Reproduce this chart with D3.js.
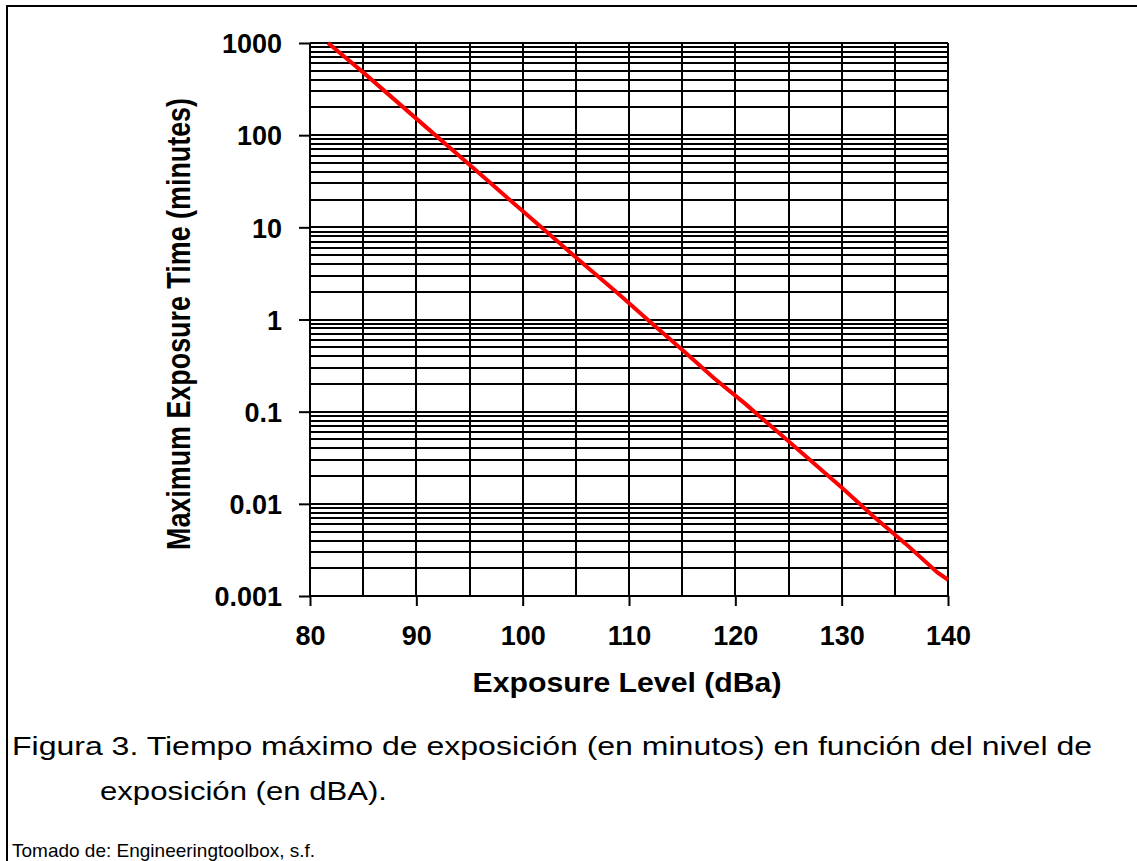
<!DOCTYPE html>
<html>
<head>
<meta charset="utf-8">
<script src="https://cdn.jsdelivr.net/npm/d3@7"></script>
<style>
  html, body { margin: 0; padding: 0; background: #fff; }
  svg { display: block; }
  text { font-family: "Liberation Sans", Arial, sans-serif; fill: #000; }
</style>
</head>
<body>
<svg id="chart" width="1137" height="861"></svg>
<script>
// ---- Data ----
const exposureLevel = [81.7, 85, 88, 91, 94, 97, 100, 103, 106, 109, 112, 115, 118, 121, 124, 127, 130, 133, 136, 139, 140];
const exposureTime  = [1000, 480, 240, 120, 60, 30, 15, 7.5, 3.75, 1.9, 0.94, 0.47, 0.23, 0.12, 0.06, 0.03, 0.015, 0.0073, 0.0037, 0.0018, 0.0015];
const xTickValues = [80, 90, 100, 110, 120, 130, 140];
const xGridValues = [85, 90, 95, 100, 105, 110, 115, 120, 125, 130, 135, 140];
const yTickValues = [1000, 100, 10, 1, 0.1, 0.01, 0.001];
const yTickLabels = ["1000", "100", "10", "1", "0.1", "0.01", "0.001"];
const xTitle = "Exposure Level (dBa)";
const yTitle = "Maximum Exposure Time (minutes)";
const captionLines = [
  "Figura 3. Tiempo máximo de exposición (en minutos) en función del nivel de",
  "exposición (en dBA).",
  "Tomado de: Engineeringtoolbox, s.f."
];

const svg = d3.select("#chart");

// frame (document table border)
svg.append("line").attr("x1", 7).attr("x2", 7).attr("y1", 5).attr("y2", 861)
  .attr("stroke", "#000").attr("stroke-width", 2);
svg.append("line").attr("x1", 6).attr("x2", 1137).attr("y1", 6).attr("y2", 6)
  .attr("stroke", "#000").attr("stroke-width", 2);

const x = d3.scaleLinear().domain([80, 140]).range([310, 948]);
const y = d3.scaleLog().domain([0.001, 1000]).range([596, 43]);

// minor + major horizontal grid lines (log)
const yGrid = [];
for (let e = -3; e < 3; e++) {
  for (let m = 1; m <= 9; m++) yGrid.push(m * Math.pow(10, e));
}
yGrid.push(1000);

const grid = svg.append("g").attr("stroke", "#000").attr("stroke-width", 2).attr("shape-rendering", "crispEdges");
grid.selectAll("line.h").data(yGrid).join("line")
  .attr("class", "h")
  .attr("x1", x(80)).attr("x2", x(140))
  .attr("y1", d => Math.round(y(d))).attr("y2", d => Math.round(y(d)));
grid.selectAll("line.v").data(xGridValues).join("line")
  .attr("class", "v")
  .attr("y1", y(1000)).attr("y2", y(0.001))
  .attr("x1", d => Math.round(x(d))).attr("x2", d => Math.round(x(d)));

// axes
const xAxis = d3.axisBottom(x).tickValues(xTickValues).tickSize(10).tickFormat(d3.format("d"));
const gx = svg.append("g").attr("transform", `translate(0,${y(0.001)})`).call(xAxis);
gx.select(".domain").attr("stroke", "#000").attr("stroke-width", 2).attr("d", `M${x(80)},0H${x(140)}`);
gx.selectAll(".tick line").attr("stroke", "#000").attr("stroke-width", 2);
gx.selectAll(".tick text")
  .attr("y", 49).attr("dy", 0)
  .style("font-size", "27px").style("font-weight", "bold")
  .style("font-family", "'Liberation Sans', Arial, sans-serif").attr("fill", "#000");

const yAxis = d3.axisLeft(y).tickValues(yTickValues).tickSize(11)
  .tickFormat((d, i) => yTickLabels[i]);
const gy = svg.append("g").attr("transform", `translate(${x(80)},0)`).call(yAxis);
gy.select(".domain").attr("stroke", "#000").attr("stroke-width", 2).attr("d", `M0,${y(0.001)}V${y(1000)}`);
gy.selectAll(".tick line").attr("stroke", "#000").attr("stroke-width", 2);
gy.selectAll(".tick text")
  .attr("x", -28).attr("dy", "0.36em")
  .style("font-size", "27px").style("font-weight", "bold")
  .style("font-family", "'Liberation Sans', Arial, sans-serif").attr("fill", "#000");

// data line
const line = d3.line().x(d => x(d[0])).y(d => y(d[1]));
svg.append("path")
  .datum(exposureLevel.map((v, i) => [v, exposureTime[i]]))
  .attr("d", line)
  .attr("fill", "none").attr("stroke", "#ff0000").attr("stroke-width", 4);

// axis titles
svg.append("text")
  .attr("x", 627).attr("y", 692)
  .attr("text-anchor", "middle")
  .attr("textLength", 309).attr("lengthAdjust", "spacingAndGlyphs")
  .style("font-size", "28px").style("font-weight", "bold")
  .text(xTitle);

svg.append("text")
  .attr("transform", "translate(190,324) rotate(-90) scale(1,1.25)")
  .attr("text-anchor", "middle")
  .attr("textLength", 452).attr("lengthAdjust", "spacingAndGlyphs")
  .style("font-size", "27px").style("font-weight", "bold")
  .text(yTitle);

// caption
const capSpecs = [
  { x: 12, y: 755, size: 25, len: 1080 },
  { x: 100, y: 800, size: 25, len: 287 },
  { x: 12, y: 857, size: 19, len: null }
];
svg.selectAll("text.cap").data(captionLines).join("text")
  .attr("class", "cap")
  .attr("x", (d, i) => capSpecs[i].x)
  .attr("y", (d, i) => capSpecs[i].y)
  .attr("textLength", (d, i) => capSpecs[i].len)
  .attr("lengthAdjust", (d, i) => capSpecs[i].len ? "spacingAndGlyphs" : null)
  .style("font-size", (d, i) => capSpecs[i].size + "px")
  .text(d => d);
</script>
</body>
</html>
